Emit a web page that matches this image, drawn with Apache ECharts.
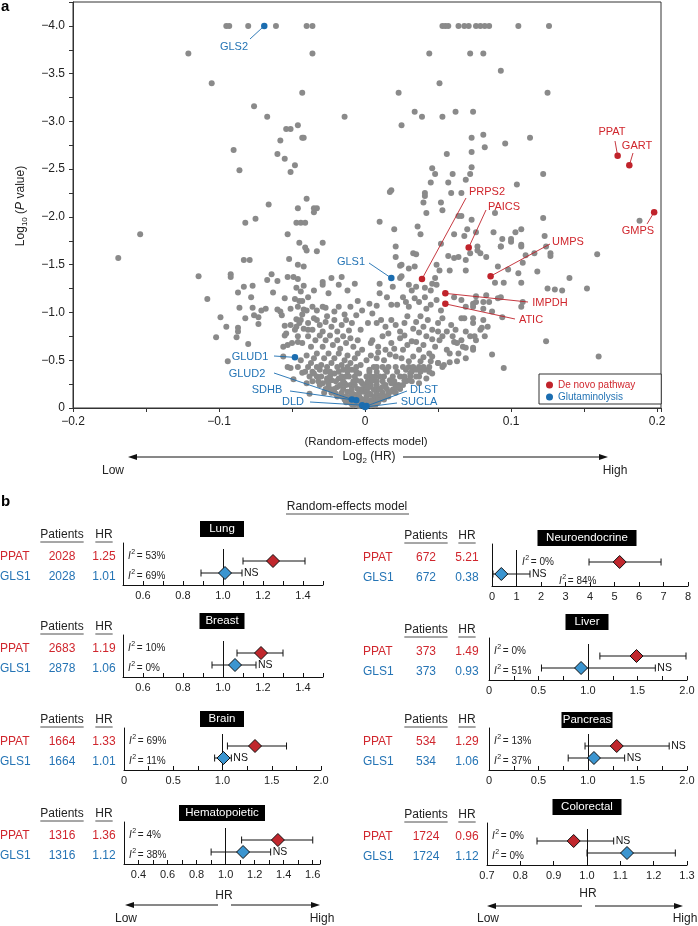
<!DOCTYPE html>
<html>
<head>
<meta charset="utf-8">
<script src="https://cdn.jsdelivr.net/npm/echarts/dist/echarts.min.js"></script>
<style>
  html, body { margin: 0; padding: 0; background: #fff; }
  #chart { width: 698px; height: 926px; }
</style>
</head>
<body>
<div id="chart"></div>
<script>
// ---- panel a: volcano plot, log2(HR) vs log10(P value) ----
const grayPoints = [
  // top rows
  [-0.095,-4.0],[-0.093,-4.0],[-0.080,-4.0],[-0.061,-4.0],[-0.040,-4.0],[-0.036,-4.0],
  [0.053,-4.0],[0.055,-4.0],[0.057,-4.0],[0.064,-4.0],[0.068,-4.0],[0.071,-4.0],[0.076,-4.0],[0.079,-4.0],[0.082,-4.0],[0.085,-4.0],[0.105,-4.0],[0.126,-4.0],
  [-0.121,-3.71],[-0.036,-3.71],[0.044,-3.71],[0.072,-3.71],[0.081,-3.71],
  [-0.105,-3.40],[0.093,-3.53],[0.051,-3.40],
  [-0.043,-3.30],[0.023,-3.30],[0.125,-3.30],[-0.076,-3.16],
  [-0.067,-3.05],[-0.014,-3.05],[0.039,-3.05],[0.053,-3.05],[0.034,-3.10],[0.062,-3.10],[0.074,-3.10],
  [0.025,-2.96],[-0.046,-2.96],[-0.054,-2.92],[-0.051,-2.92],
  [-0.043,-2.83],[-0.042,-2.83],[-0.058,-2.80],[0.073,-2.83],[0.113,-2.83],[0.081,-2.86],
  [0.096,-2.77],[0.082,-2.73],[-0.090,-2.70],[0.073,-2.68],[-0.060,-2.66],[0.056,-2.66],[-0.055,-2.61],[-0.048,-2.54],[0.073,-2.52],[0.046,-2.51],[-0.086,-2.49],[-0.051,-2.47],
  [0.048,-2.45],[0.060,-2.45],[0.072,-2.45],[0.122,-2.45],[0.069,-2.39],[0.045,-2.36],[0.057,-2.36],[0.104,-2.34],[0.188,-1.96],
  [0.018,-2.28],[0.017,-2.26],[0.041,-2.25],[0.041,-2.22],[0.059,-2.25],[0.066,-2.25],[0.040,-2.15],[0.052,-2.15],[0.053,-2.07],[0.042,-2.04],[0.089,-2.04],[0.064,-2.01],[0.066,-2.01],[0.122,-1.99],[0.073,-1.97],[0.010,-1.95],[0.036,-1.90],[0.020,-1.87],[0.070,-1.87],[0.076,-1.84],[0.088,-1.84],[0.103,-1.84],[0.107,-1.87],[0.038,-1.82],[0.061,-1.82],[0.068,-1.80],[0.123,-1.80],[0.094,-1.77],[0.100,-1.77],[0.107,-1.69],[0.093,-1.69],[0.077,-1.69],[0.021,-1.69],[0.021,-1.58],
  [-0.040,-2.19],[-0.066,-2.13],[-0.046,-2.09],[-0.035,-2.09],[-0.033,-2.09],[-0.035,-2.05],[-0.075,-1.98],[-0.082,-1.94],[-0.047,-1.94],[-0.044,-1.94],[-0.041,-1.94],[-0.154,-1.82],[-0.053,-1.82],[-0.045,-1.73],[-0.029,-1.73],[-0.041,-1.68],[-0.040,-1.65],[-0.033,-1.64],
  // left arm
  [-0.169,-1.57],[-0.114,-1.38],[-0.108,-1.14],[-0.099,-0.95],[-0.102,-0.74],[-0.095,-0.85],[-0.094,-0.49],[-0.092,-1.40],[-0.092,-1.37],[-0.087,-1.21],[-0.087,-0.84],[-0.087,-0.80],[-0.088,-0.74],[-0.086,-1.05],[-0.083,-1.55],[-0.079,-1.55],[-0.083,-1.27],[-0.082,-0.94],[-0.080,-0.67],[-0.078,-1.16],[-0.077,-1.28],[-0.077,-1.05],[-0.076,-0.97],[-0.073,-0.95],[-0.073,-0.88],[-0.071,-1.02],[-0.068,-1.04],[-0.067,-1.34],[-0.064,-1.40],[-0.063,-1.21],[-0.060,-1.03],[-0.058,-1.01],[-0.060,-1.33],[-0.055,-1.15],[-0.053,-1.37],[-0.052,-1.56],[-0.055,-0.86],[-0.055,-0.76],[-0.056,-0.64],[-0.056,-0.54],[-0.053,-0.43],[-0.051,-0.42],[-0.049,-0.30],[-0.038,-0.15],[-0.046,-1.50],[-0.049,-1.37],[-0.046,-1.35],[-0.047,-1.26],[-0.048,-1.14],[-0.045,-1.12],[-0.043,-1.12],[-0.042,-1.48],[-0.042,-1.28],[-0.042,-1.03],[-0.047,-0.93],[-0.044,-0.92],[-0.051,-0.87],[-0.047,-0.85],[-0.050,-0.68],[-0.046,-0.69],[-0.039,-1.16],[-0.039,-0.89],[-0.039,-0.82],[-0.035,-0.94],[-0.033,-0.92],[-0.029,-1.32],[-0.029,-1.29],[-0.029,-1.06],[-0.025,-1.20],[-0.023,-1.36],[-0.016,-1.37],[-0.018,-1.29],[-0.012,-1.23],
  [-0.044,-1.22],[-0.035,-1.23],[-0.007,-1.30],[-0.057,-0.97],[-0.051,-1.04],[-0.046,-1.06],[-0.043,-0.98],[-0.040,-1.02],[-0.036,-1.06],[-0.033,-1.02],[-0.027,-1.05],[-0.026,-0.96],[-0.021,-1.01],[-0.018,-1.06],[-0.014,-0.98],[-0.010,-1.06],[-0.005,-1.12],[-0.002,-1.02],[0.003,-1.09],
  [-0.054,-0.78],[-0.048,-0.82],[-0.045,-0.89],[-0.042,-0.83],[-0.036,-0.82],[-0.031,-0.87],[-0.029,-0.80],[-0.027,-0.90],[-0.023,-0.85],[-0.021,-0.92],[-0.019,-0.80],[-0.016,-0.87],[-0.013,-0.92],[-0.011,-0.81],[-0.009,-0.89],[-0.006,-0.97],[-0.003,-0.82],[0.002,-0.89],
  [-0.053,-0.66],[-0.046,-0.75],[-0.043,-0.68],[-0.039,-0.75],[-0.037,-0.64],[-0.034,-0.71],[-0.031,-0.76],[-0.029,-0.64],[-0.027,-0.71],[-0.024,-0.76],[-0.022,-0.66],[-0.019,-0.71],[-0.017,-0.62],[-0.015,-0.75],[-0.013,-0.68],[-0.010,-0.73],[-0.008,-0.64],[-0.005,-0.71],[-0.002,-0.61],[0.004,-0.68],
  [-0.044,-0.50],[-0.040,-0.55],[-0.037,-0.47],[-0.035,-0.52],[-0.033,-0.57],[-0.030,-0.45],[-0.028,-0.52],[-0.025,-0.57],[-0.023,-0.47],[-0.021,-0.52],[-0.018,-0.57],[-0.016,-0.45],[-0.014,-0.50],[-0.012,-0.55],[-0.010,-0.47],[-0.007,-0.52],[-0.005,-0.57],[-0.003,-0.45],[0.001,-0.50],[0.004,-0.55],
  [-0.033,-0.33],[-0.029,-0.26],[-0.027,-0.38],[-0.023,-0.29],[-0.021,-0.36],[-0.019,-0.22],[-0.018,-0.31],[-0.015,-0.40],[-0.014,-0.26],[-0.012,-0.17],[-0.011,-0.33],[-0.010,-0.24],[-0.009,-0.40],[-0.007,-0.14],[-0.006,-0.29],[-0.005,-0.20],[-0.004,-0.36],[-0.003,-0.10],[-0.002,-0.26],[-0.001,-0.17],[0.001,-0.33],[0.002,-0.07],[0.003,-0.22],[0.004,-0.14],[0.005,-0.29],
  [-0.016,-0.12],[-0.013,-0.06],[-0.009,-0.04],[-0.006,-0.05],[-0.004,-0.02],[0.000,-0.04],[-0.008,-0.11],[-0.020,-0.15],[-0.024,-0.20],[-0.026,-0.31],[-0.031,-0.40],[-0.035,-0.36],[-0.028,-0.16],[-0.043,-0.37],[-0.040,-0.26],
  // dense core near the origin
  [-0.008,-0.03],[-0.004,-0.03],[0.004,-0.03],[0.007,-0.03],
  [-0.011,-0.06],[-0.007,-0.06],[-0.002,-0.06],[0.003,-0.06],[0.006,-0.06],[0.009,-0.06],
  [-0.014,-0.09],[-0.011,-0.09],[-0.005,-0.09],[0.000,-0.09],[0.006,-0.09],[0.010,-0.09],[0.013,-0.09],
  [-0.019,-0.12],[-0.013,-0.12],[-0.010,-0.12],[-0.004,-0.12],[0.001,-0.12],[0.007,-0.12],[0.010,-0.12],[0.016,-0.12],
  [-0.023,-0.16],[-0.016,-0.16],[-0.009,-0.16],[-0.004,-0.16],[0.002,-0.16],[0.008,-0.16],[0.012,-0.16],[0.016,-0.16],[0.021,-0.16],
  [-0.027,-0.20],[-0.021,-0.20],[-0.015,-0.20],[-0.009,-0.20],[-0.002,-0.20],[0.001,-0.20],[0.007,-0.20],[0.010,-0.20],[0.015,-0.20],[0.020,-0.20],[0.024,-0.20],
  [-0.031,-0.24],[-0.025,-0.24],[-0.017,-0.24],[-0.013,-0.24],[-0.007,-0.24],[0.000,-0.24],[0.004,-0.24],[0.008,-0.24],[0.014,-0.24],[0.021,-0.24],[0.023,-0.24],
  [-0.036,-0.28],[-0.032,-0.28],[-0.026,-0.28],[-0.020,-0.28],[-0.015,-0.28],[-0.008,-0.28],[-0.003,-0.28],[0.002,-0.28],[0.008,-0.28],[0.012,-0.28],[0.020,-0.28],[0.028,-0.28],[0.032,-0.28],
  [-0.038,-0.33],[-0.030,-0.33],[-0.024,-0.33],[-0.016,-0.33],[-0.013,-0.33],[-0.007,-0.33],[0.004,-0.33],[0.007,-0.33],[0.013,-0.33],[0.019,-0.33],[0.027,-0.33],[0.031,-0.33],[0.037,-0.33],
  [-0.041,-0.38],[-0.036,-0.38],[-0.024,-0.38],[-0.018,-0.38],[-0.012,-0.38],[-0.006,-0.38],[0.003,-0.38],[0.008,-0.38],[0.015,-0.38],[0.022,-0.38],[0.032,-0.38],[0.038,-0.38],
  [-0.046,-0.43],[-0.039,-0.43],[-0.033,-0.43],[-0.026,-0.43],[-0.019,-0.43],[-0.012,-0.43],[-0.006,-0.43],[0.006,-0.43],[0.012,-0.43],[0.016,-0.43],[0.026,-0.43],[0.030,-0.43],[0.037,-0.43],[0.040,-0.43],
  [0.008,-0.52],[0.013,-0.50],[0.017,-0.56],[0.025,-0.52],[0.030,-0.49],[0.040,-0.53],[0.045,-0.49],[0.009,-0.58],[0.020,-0.62],[0.032,-0.70],[0.040,-0.66],[0.046,-0.72],[0.016,-0.78],[0.027,-0.76],[0.037,-0.79],[0.050,-0.80],
  // right arm
  [0.024,-1.49],[0.025,-1.50],[0.030,-1.46],[0.034,-1.48],[0.033,-1.62],[0.035,-1.61],[0.052,-1.72],
  [0.057,-1.59],[0.061,-1.57],[0.064,-1.58],[0.069,-1.55],[0.072,-1.62],[0.077,-1.65],[0.079,-1.62],[0.083,-1.58],
  [0.049,-1.50],[0.051,-1.44],[0.058,-1.44],[0.069,-1.44],
  [0.010,-1.30],[0.019,-1.27],[0.024,-1.36],[0.025,-1.38],[0.010,-1.20],[0.008,-1.07],[0.005,-0.99],[0.015,-1.16],[0.018,-1.08],
  [0.030,-1.29],[0.032,-1.23],[0.035,-1.27],[0.041,-1.26],[0.046,-1.30],[0.049,-1.29],[0.048,-1.36],[0.045,-1.23],
  [0.061,-1.16],[0.066,-1.13],[0.069,-1.06],[0.074,-1.09],[0.081,-1.11],
  [0.026,-1.16],[0.028,-1.11],[0.022,-1.08],[0.030,-1.06],[0.034,-1.15],[0.037,-1.11],[0.041,-1.16],[0.042,-1.04],[0.045,-1.08],[0.049,-1.13],[0.052,-1.02],
  [0.008,-0.89],[0.011,-0.92],[0.014,-0.85],[0.018,-0.92],[0.021,-0.87],[0.024,-0.80],[0.027,-0.89],[0.029,-0.96],[0.033,-0.83],[0.035,-0.90],[0.038,-0.96],[0.040,-0.85],[0.043,-0.92],[0.046,-0.82],[0.050,-0.89],[0.053,-0.94],[0.056,-0.80],[0.059,-0.87],[0.062,-0.82],[0.066,-0.94],[0.069,-0.80],[0.074,-0.89],[0.079,-0.82],
  [0.005,-0.71],[0.009,-0.64],[0.012,-0.75],[0.014,-0.61],[0.018,-0.68],[0.021,-0.54],[0.024,-0.73],[0.026,-0.61],[0.029,-0.66],[0.033,-0.54],[0.035,-0.69],[0.037,-0.61],[0.042,-0.75],[0.044,-0.57],[0.048,-0.64],[0.050,-0.47],[0.053,-0.75],[0.056,-0.61],[0.058,-0.48],[0.061,-0.69],[0.064,-0.57],[0.067,-0.64],[0.069,-0.52],[0.074,-0.61],[0.072,-0.75],[0.060,-0.75],[0.051,-0.71],
  [0.003,-0.40],[0.005,-0.29],[0.008,-0.43],[0.010,-0.33],[0.012,-0.22],[0.014,-0.40],[0.017,-0.29],[0.019,-0.19],[0.021,-0.43],[0.024,-0.33],[0.026,-0.24],[0.028,-0.40],[0.030,-0.29],[0.033,-0.43],[0.035,-0.33],[0.037,-0.26],[0.041,-0.40],[0.044,-0.43],[0.046,-0.36],[0.053,-0.43],
  [0.003,-0.15],[0.006,-0.19],[0.009,-0.10],[0.011,-0.13],[0.014,-0.12],[0.018,-0.26],[0.001,-0.05],[0.004,-0.08],[0.002,-0.22],
  [0.093,-1.69],[0.100,-1.74],[0.107,-1.71],[0.110,-1.60],[0.116,-1.62],[0.124,-1.69],[0.127,-1.62],[0.127,-1.59],[0.159,-1.61],
  [0.091,-1.48],[0.098,-1.45],[0.105,-1.41],[0.108,-1.52],[0.118,-1.43],[0.140,-1.36],[0.152,-1.25],
  [0.089,-1.31],[0.095,-1.31],[0.107,-1.31],[0.125,-1.25],[0.130,-1.24],[0.135,-1.23],
  [0.076,-1.17],[0.083,-1.18],[0.091,-1.15],[0.093,-1.16],[0.085,-1.11],[0.076,-1.11],
  [0.074,-1.06],[0.081,-1.04],[0.107,-1.06],[0.108,-1.11],[0.094,-0.95],[0.087,-1.01],
  [0.068,-0.94],[0.074,-0.94],[0.081,-0.92],[0.084,-0.85],[0.080,-0.84],[0.075,-0.75],[0.076,-0.71],[0.082,-0.75],[0.074,-0.63],[0.066,-0.71],
  [0.124,-0.70],[0.087,-0.56],[0.160,-0.54],[0.095,-0.42],
  [0.069,-0.63],[0.063,-0.68],[0.058,-0.57],[0.063,-0.49],[0.054,-0.45],[0.050,-0.47],[0.046,-0.54],[0.044,-0.38],[0.042,-0.31],
  [0.038,-0.49],[0.035,-0.40],[0.031,-0.36],[0.027,-0.29],[0.022,-0.22],[0.018,-0.17],[0.013,-0.12]
];
const deNovoGenes = ['PPAT', 'GART', 'GMPS', 'PRPS2', 'PAICS', 'UMPS', 'IMPDH', 'ATIC'];
const deNovoLogHR = [0.173, 0.181, 0.198, 0.039, 0.071, 0.086, 0.055, 0.055];
const deNovoLogP = [-2.64, -2.54, -2.05, -1.35, -1.68, -1.38, -1.20, -1.09];
const glutGenes = ['GLS2', 'GLS1', 'GLUD1', 'GLUD2', 'SDHB', 'DLD', 'DLST', 'SUCLA'];
const glutLogHR = [-0.069, 0.018, -0.048, -0.009, -0.006, -0.002, 0.001, 0.000];
const glutLogP = [-4.0, -1.36, -0.53, -0.09, -0.08, -0.03, -0.02, -0.01];

// ---- panel b: forest plots ----
const tissues = ['Lung', 'Breast', 'Brain', 'Hematopoietic', 'Neuroendocrine', 'Liver', 'Pancreas', 'Colorectal'];
const ppatPatients = [2028, 2683, 1664, 1316, 672, 373, 534, 1724];
const ppatHR = [1.25, 1.19, 1.33, 1.36, 5.21, 1.49, 1.29, 0.96];
const ppatLo = [1.10, 1.07, 1.05, 1.11, 3.96, 1.12, 0.97, 0.85];
const ppatHi = [1.41, 1.30, 1.65, 1.60, 6.90, 1.99, 1.82, 1.08];
const ppatI2 = ['53%', '10%', '69%', '4%', '0%', '0%', '13%', '0%'];
const ppatNS = [0, 0, 0, 0, 0, 0, 1, 1];
const gls1Patients = [2028, 2878, 1664, 1316, 672, 373, 534, 1724];
const gls1HR = [1.01, 1.06, 1.01, 1.12, 0.38, 0.93, 1.06, 1.12];
const gls1Lo = [0.89, 0.945, 0.92, 0.90, 0.04, 0.53, 0.80, 1.00];
const gls1Hi = [1.095, 1.165, 1.09, 1.31, 1.55, 1.68, 1.37, 1.265];
const gls1I2 = ['69%', '0%', '11%', '38%', '84%', '51%', '37%', '0%'];
const gls1NS = [1, 1, 1, 1, 1, 1, 1, 0];

// layout of the small plots (pixels) and their axes
const panels = [
  { left: 123, width: 200, bottom: 585, min: 0.5, max: 1.5, step: 0.1, lab: 0.2, titleY: 529, titleW: 44, col: 0 },
  { left: 123, width: 200, bottom: 677, min: 0.5, max: 1.5, step: 0.1, lab: 0.2, titleY: 621, titleW: 45, col: 0 },
  { left: 124, width: 197, bottom: 770, min: 0, max: 2, step: 0.25, lab: 0.5, titleY: 719, titleW: 44, col: 0 },
  { left: 124, width: 196, bottom: 864, min: 0.3, max: 1.65, step: 0.1, lab: 0.2, titleY: 813, titleW: 86, col: 0 },
  { left: 492, width: 196, bottom: 586, min: 0, max: 8, step: 1, lab: 1, titleY: 538, titleW: 99, col: 1 },
  { left: 489, width: 198, bottom: 680, min: 0, max: 2, step: 0.25, lab: 0.5, titleY: 622, titleW: 43, col: 1 },
  { left: 489, width: 198, bottom: 770, min: 0, max: 2, step: 0.25, lab: 0.5, titleY: 720, titleW: 51, col: 1 },
  { left: 487, width: 200, bottom: 865, min: 0.7, max: 1.3, step: 0.1, lab: 0.1, titleY: 807, titleW: 69, col: 1 }
];
const tableCols = [{ name: 0, pat: 62, hr: 104, title: 222 }, { name: 363, pat: 426, hr: 467, title: 587 }];

// label anchor [textX, textY, lineEndX, lineEndY]
const geneLabelPos = {
  PPAT: [612, 132, 615, 141], GART: [637, 146, 633, 153], GMPS: [638, 231, 647, 224],
  PRPS2: [487, 192, 466, 198], PAICS: [504, 207, 486, 210], UMPS: [568, 242, 550, 244],
  IMPDH: [550, 303, 528, 302], ATIC: [531, 320, 515, 319],
  GLS2: [234, 47, 250, 39], GLS1: [351, 262, 369, 263], GLUD1: [250, 357, 274, 356],
  GLUD2: [247, 374, 274, 373], SDHB: [267, 390, 290, 391], DLD: [293, 402, 310, 402],
  DLST: [424, 390, 407, 391], SUCLA: [419, 402, 397, 403]
};

const FONT = '"Liberation Sans", Arial, Helvetica, sans-serif';
const RED = '#c0232b', BLUE = '#1b6db0', GRAY = '#8a8a8a';
const RED_TXT = '#d0262d', BLUE_TXT = '#2474b5';
const DIAMOND_RED = '#c0272d', DIAMOND_BLUE = '#3b95d0';

const measure = document.createElement('canvas').getContext('2d');
function tw(s, size, style) {
  measure.font = (style || '') + ' ' + size + 'px "Liberation Sans"';
  return measure.measureText(s).width;
}
function txt(x, y, s, o) {
  o = o || {};
  return {
    type: 'text', x: x, y: y, z: o.z || 10,
    style: {
      text: s, fontSize: o.size || 12, fontFamily: FONT,
      fontStyle: o.italic ? 'italic' : 'normal', fontWeight: o.bold ? 'bold' : 'normal',
      fill: o.color || '#222', textAlign: o.align || 'center', textVerticalAlign: 'middle',
      align: o.align || 'center', verticalAlign: 'middle'
    }
  };
}
function seg(x1, y1, x2, y2, color, w, z) {
  return { type: 'line', z: z || 10, shape: { x1: x1, y1: y1, x2: x2, y2: y2 }, style: { stroke: color || '#111', lineWidth: w || 1 } };
}
function arrow(x1, x2, y) {
  const d = x2 > x1 ? 1 : -1;
  return [
    seg(x1, y, x2 - d * 6, y, '#111', 1),
    { type: 'polygon', z: 10, shape: { points: [[x2, y], [x2 - d * 9, y - 3], [x2 - d * 9, y + 3]] }, style: { fill: '#111' } }
  ];
}
// I^2 = xx%
function i2(x, y, pct) {
  return [
    txt(x, y, 'I', { size: 10, italic: true, align: 'left' }),
    txt(x + 3.2, y - 3.5, '2', { size: 7, align: 'left' }),
    txt(x + 6, y, ' = ' + pct, { size: 10, align: 'left' })
  ];
}
// horizontal run of text pieces, centred on 0
function pieces(parts) {
  const total = parts.reduce((s, p) => s + tw(p.t, p.size, p.italic ? 'italic' : ''), 0);
  let x = -total / 2;
  return parts.map(p => {
    const el = txt(x, p.dy || 0, p.t, { size: p.size, italic: p.italic, align: 'left' });
    x += tw(p.t, p.size, p.italic ? 'italic' : '');
    return el;
  });
}
function tickFmt(v, lab) {
  if (Math.abs(v / lab - Math.round(v / lab)) > 1e-6) return '';
  if (Math.abs(v) < 1e-9) return '0';
  return lab >= 1 ? String(Math.round(v)) : v.toFixed(1);
}

// ---- static graphics ----
const G = [];
G.push(txt(1, 7, 'a', { size: 15, bold: true, align: 'left', color: '#000' }));
G.push(txt(1, 502, 'b', { size: 15, bold: true, align: 'left', color: '#000' }));
G.push({
  type: 'group', x: 21, y: 206, rotation: Math.PI / 2,
  children: pieces([{ t: 'Log', size: 12 }, { t: '10', size: 8, dy: 4 }, { t: ' (', size: 12 }, { t: 'P', size: 12, italic: true }, { t: ' value)', size: 12 }])
});
G.push(txt(366, 442, '(Random-effects model)', { size: 11.5 }));
G.push({ type: 'group', x: 369, y: 457, children: pieces([{ t: 'Log', size: 12 }, { t: '2', size: 8, dy: 4 }, { t: ' (HR)', size: 12 }]) });
G.push(...arrow(333, 128, 457), ...arrow(403, 608, 457));
G.push(txt(113, 471, 'Low', { size: 12 }), txt(615, 471, 'High', { size: 12 }));

G.push(txt(347, 507, 'Random-effects model', { size: 12 }));
G.push(seg(286, 514, 409, 514, '#222', 0.8));

panels.forEach((p, i) => {
  const c = tableCols[p.col];
  const b = p.bottom;
  G.push({ type: 'rect', z: 9, shape: { x: c.title - p.titleW / 2, y: p.titleY - 8, width: p.titleW, height: 16 }, style: { fill: '#000' } });
  G.push(txt(c.title, p.titleY, tissues[i], { size: 11.5, color: '#fff' }));
  const hy = b - 50;
  G.push(txt(c.pat, hy, 'Patients', { size: 12 }), txt(c.hr, hy, 'HR', { size: 12 }));
  const pw = tw('Patients', 12), hw = tw('HR', 12);
  G.push(seg(c.pat - pw / 2, hy + 7, c.pat + pw / 2, hy + 7, '#222', 0.8));
  G.push(seg(c.hr - hw / 2, hy + 7, c.hr + hw / 2, hy + 7, '#222', 0.8));
  const y1 = b - 28, y2 = b - 8.5;
  G.push(txt(c.name, y1, 'PPAT', { size: 12, align: 'left', color: RED_TXT }));
  G.push(txt(c.pat, y1, String(ppatPatients[i]), { size: 12, color: RED_TXT }));
  G.push(txt(c.hr, y1, ppatHR[i].toFixed(2), { size: 12, color: RED_TXT }));
  G.push(txt(c.name, y2, 'GLS1', { size: 12, align: 'left', color: BLUE_TXT }));
  G.push(txt(c.pat, y2, String(gls1Patients[i]), { size: 12, color: BLUE_TXT }));
  G.push(txt(c.hr, y2, gls1HR[i].toFixed(2), { size: 12, color: BLUE_TXT }));
  if (tissues[i] === 'Neuroendocrine') {
    G.push(...i2(522, b - 24, ppatI2[i]), ...i2(559, b - 5, gls1I2[i]));
  } else {
    G.push(...i2(p.left + 5, b - 29, ppatI2[i]), ...i2(p.left + 5, b - 9, gls1I2[i]));
  }
});
// HR arrows under each column
[[224, 125, 218, 231, 320, 896, 905], [588, 487, 582, 595, 683, 894, 906]].forEach(a => {
  G.push(txt(a[0], a[5], 'HR', { size: 12 }));
  G.push(...arrow(a[2], a[1], a[6]), ...arrow(a[3], a[4], a[6]));
  G.push(txt(a[1] + 1, 919, 'Low', { size: 12 }), txt(a[4] + 2, 919, 'High', { size: 12 }));
});

// ---- option ----
const grids = [{ left: 73, top: 2, width: 588, height: 406, show: true, borderColor: '#333', borderWidth: 1, outerBoundsMode: 'none' }];
const xAxes = [{
  gridIndex: 0, type: 'value', min: -0.2, max: 0.2027, interval: 0.05,
  axisLine: { onZero: false, lineStyle: { color: '#333' } },
  axisTick: { length: 4, lineStyle: { color: '#333' } },
  splitLine: { show: false },
  axisLabel: {
    fontSize: 12, color: '#222', fontFamily: FONT, margin: 8, showMaxLabel: true, showMinLabel: true,
    formatter: v => { const s = tickFmt(v, 0.1); return s.charAt(0) === '-' ? '\u2212' + s.slice(1) : s; }
  }
}];
const yAxes = [{
  gridIndex: 0, type: 'value', inverse: true, min: -4.25, max: 0, interval: 0.25,
  axisLine: { onZero: false, lineStyle: { color: '#333' } },
  axisTick: { length: 4, lineStyle: { color: '#333' } },
  splitLine: { show: false },
  axisLabel: {
    fontSize: 12, color: '#222', fontFamily: FONT, margin: 8,
    formatter: v => { const s = tickFmt(v, 0.5); return s.charAt(0) === '-' ? '\u2212' + s.slice(1) : s; }
  }
}];
const series = [
  { type: 'scatter', xAxisIndex: 0, yAxisIndex: 0, data: grayPoints, symbolSize: 6, itemStyle: { color: GRAY, opacity: 1 }, silent: true, z: 2 },
  { name: 'De novo pathway', type: 'scatter', xAxisIndex: 0, yAxisIndex: 0, data: deNovoLogHR.map((x, i) => [x, deNovoLogP[i]]), symbolSize: 6.5, itemStyle: { color: RED, opacity: 1 }, z: 6 },
  { name: 'Glutaminolysis', type: 'scatter', xAxisIndex: 0, yAxisIndex: 0, data: glutLogHR.map((x, i) => [x, glutLogP[i]]), symbolSize: 6.5, itemStyle: { color: BLUE, opacity: 1 }, z: 6 }
];

function renderCI(params, api) {
  const row = api.value(2);
  const a = api.coord([api.value(0), row]);
  const b = api.coord([api.value(1), row]);
  const st = { stroke: '#111', lineWidth: 1 };
  const kids = [
    { type: 'line', shape: { x1: a[0], y1: a[1], x2: b[0], y2: b[1] }, style: st },
    { type: 'line', shape: { x1: a[0], y1: a[1] - 3.5, x2: a[0], y2: a[1] + 3.5 }, style: st },
    { type: 'line', shape: { x1: b[0], y1: b[1] - 3.5, x2: b[0], y2: b[1] + 3.5 }, style: st }
  ];
  if (api.value(3)) {
    kids.push({ type: 'text', x: b[0] + 2, y: b[1], style: { text: 'NS', fontSize: 10.5, fontFamily: FONT, fill: '#111', align: 'left', verticalAlign: 'middle', textAlign: 'left', textVerticalAlign: 'middle' } });
  }
  return { type: 'group', children: kids };
}

panels.forEach((p, i) => {
  const k = i + 1;
  grids.push({ left: p.left, top: p.bottom - 42, width: p.width, height: 42, outerBoundsMode: 'none' });
  xAxes.push({
    gridIndex: k, type: 'value', min: p.min, max: p.max, interval: p.step,
    axisLine: { onZero: false, lineStyle: { color: '#111' } },
    axisTick: { inside: true, length: 4, lineStyle: { color: '#111' } },
    splitLine: { show: false },
    axisLabel: { fontSize: 11, color: '#222', fontFamily: FONT, margin: 5, formatter: v => tickFmt(v, p.lab) }
  });
  yAxes.push({
    gridIndex: k, type: 'value', min: 0, max: 3.5,
    axisLine: { show: true, onZero: false, lineStyle: { color: '#111' } },
    axisTick: { show: false }, axisLabel: { show: false }, splitLine: { show: false }
  });
  series.push({
    type: 'custom', xAxisIndex: k, yAxisIndex: k, renderItem: renderCI, z: 3,
    encode: { x: [0, 1], y: 2 },
    data: [[ppatLo[i], ppatHi[i], 2, ppatNS[i]], [gls1Lo[i], gls1Hi[i], 1, gls1NS[i]]]
  });
  series.push({
    type: 'scatter', xAxisIndex: k, yAxisIndex: k, symbol: 'diamond', symbolSize: 13, z: 5,
    itemStyle: { borderColor: '#111', borderWidth: 1, opacity: 1 },
    data: [
      { value: [ppatHR[i], 2], itemStyle: { color: DIAMOND_RED } },
      { value: [gls1HR[i], 1], itemStyle: { color: DIAMOND_BLUE } }
    ],
    markLine: {
      silent: true, symbol: 'none', animation: false,
      label: { show: false },
      lineStyle: { color: '#111', type: 'solid', width: 1 },
      data: [[{ coord: [1, 0] }, { coord: [1, 3.0] }]]
    }
  });
});

const chart = echarts.init(document.getElementById('chart'), null, { renderer: 'canvas' });
const option = {
  animation: false,
  backgroundColor: '#fff',
  textStyle: { fontFamily: FONT },
  grid: grids,
  xAxis: xAxes,
  yAxis: yAxes,
  legend: {
    data: [
      { name: 'De novo pathway', textStyle: { color: RED_TXT } },
      { name: 'Glutaminolysis', textStyle: { color: BLUE_TXT } }
    ],
    orient: 'vertical', left: 539, top: 374,
    icon: 'circle', itemWidth: 7, itemHeight: 7, itemGap: 2,
    padding: [6, 26, 2, 7],
    borderColor: '#333', borderWidth: 1, backgroundColor: '#fff',
    selectedMode: false,
    textStyle: { fontSize: 10, fontFamily: FONT }
  },
  series: series,
  graphic: { elements: G }
};
chart.setOption(option);

// gene labels with leader lines, anchored on the plotted points
const geneEls = [];
function addGene(name, x, y, lineColor, textColor) {
  const pt = chart.convertToPixel({ gridIndex: 0 }, [x, y]);
  const L = geneLabelPos[name];
  geneEls.push(seg(pt[0], pt[1], L[2], L[3], lineColor, 0.9, 4));
  geneEls.push(txt(L[0], L[1], name, { size: 11, color: textColor }));
}
deNovoGenes.forEach((g, i) => addGene(g, deNovoLogHR[i], deNovoLogP[i], RED, RED_TXT));
glutGenes.forEach((g, i) => addGene(g, glutLogHR[i], glutLogP[i], BLUE, BLUE_TXT));
chart.setOption({ graphic: { elements: G.concat(geneEls) } });
</script>
</body>
</html>
